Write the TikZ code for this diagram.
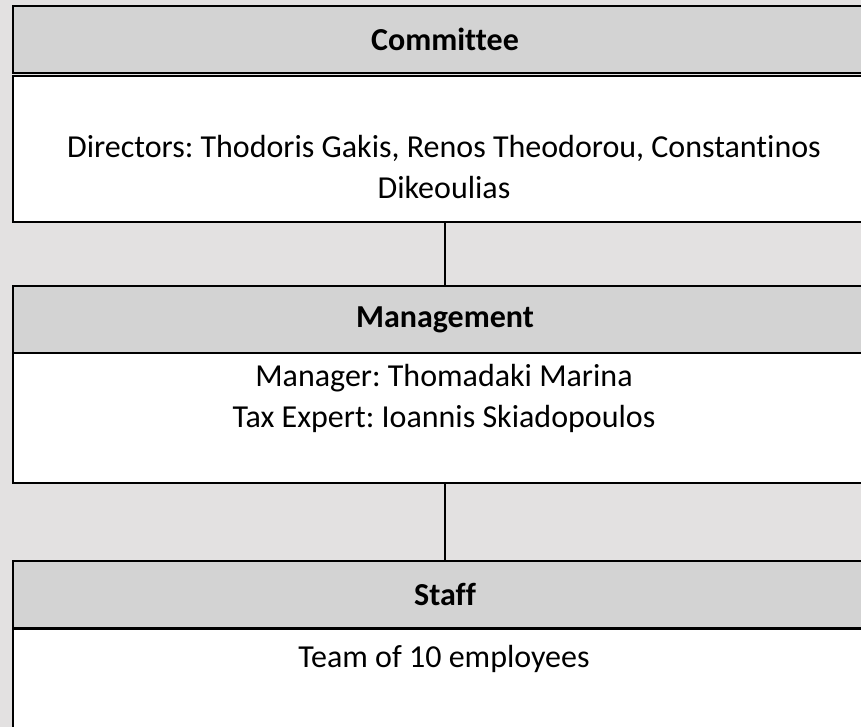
\documentclass[tikz,border=0pt]{standalone}
\usepackage{fontspec}
\setmainfont{Carlito}[Ligatures=CommonOff]
\usepackage{tikz}
\usetikzlibrary{positioning}

\definecolor{pagegray}{HTML}{E3E1E1}
\definecolor{headgray}{HTML}{D3D3D3}

\tikzset{
  head/.style={draw=black, line width=2pt, fill=headgray, minimum width=864pt,
    minimum height=67pt, anchor=north west, inner sep=0pt, font=\bfseries},
  body/.style={draw=black, line width=2pt, fill=white, minimum width=864pt,
    anchor=north west, inner sep=0pt},
  txt/.style={align=center, inner sep=0pt},
  link/.style={draw=black, line width=2pt}
}

\frenchspacing
\begin{document}
\begin{tikzpicture}[x=1pt, y=-1pt, font=\fontsize{32}{40.5}\selectfont]
    \fill[pagegray] (0,0) rectangle (861,727);
    \useasboundingbox (0,0) rectangle (861,727);
    \clip (0,0) rectangle (861,727);

    % committee
    \node[head] (comhead) at (12,5) {};
    \node at (comhead.center) {\bfseries Committee};
    \node[body, minimum height=146pt] (combody) at (12,75) {};
    \node[txt] (comtxt) at (444,167)
        {Directors: Thodoris Gakis, Renos Theodorou, Constantinos\\Dikeoulias};

    % management
    \node[head] (mgmthead) at (12,285) {};
    \node at (mgmthead.center) {\bfseries Management};
    \node[body, minimum height=130pt] (mgmtbody) at (12,352) {};
    \node[txt] (mgmttxt) at (444,398.5)
        {Manager: Thomadaki Marina\\Tax Expert: Ioannis Skiadopoulos};

    % staff
    \node[head] (staffhead) at (12,560) {};
    \node at (staffhead.center) {\bfseries Staff};
    \node[body, minimum height=120pt] (staffbody) at (12,628) {};
    \node[txt] (stafftxt) at (444,659) {Team of 10 employees};

    \draw[link] (combody.south) -- (mgmthead.north);
    \draw[link] (mgmtbody.south) -- (staffhead.north);
\end{tikzpicture}
\end{document}
